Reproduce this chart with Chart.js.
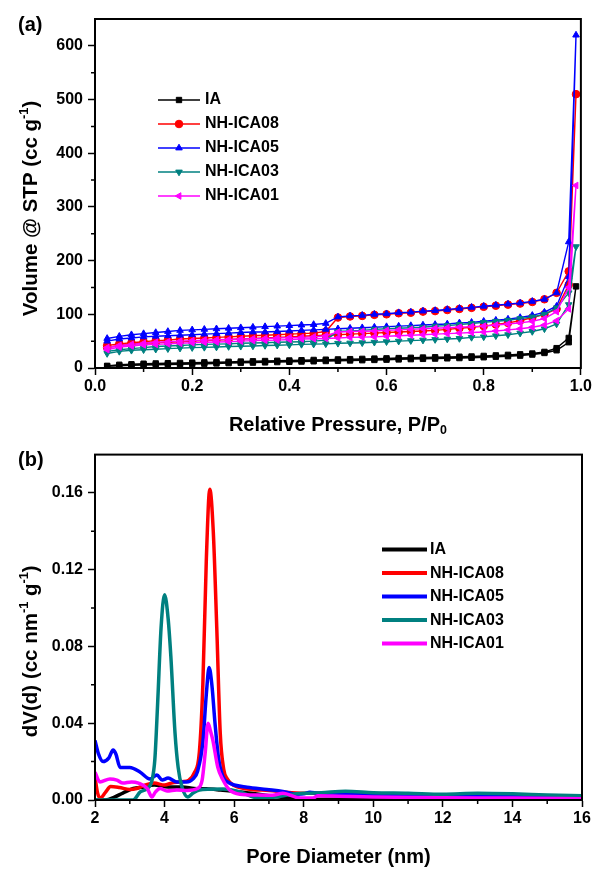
<!DOCTYPE html>
<html>
<head>
<meta charset="utf-8">
<script src="https://cdn.jsdelivr.net/npm/chart.js@4.4.0/dist/chart.umd.min.js"></script>
<style>
  html, body { margin: 0; padding: 0; background: #fff; }
  #wrap { position: relative; width: 594px; height: 869px; }
  .panel { position: absolute; left: 0; width: 594px; }
  #top { top: 0; height: 440px; }
  #bottom { top: 440px; height: 429px; }
</style>
</head>
<body>
<div id="wrap">
  <div class="panel" id="top"><canvas id="iso" width="594" height="440"></canvas></div>
  <div class="panel" id="bottom"><canvas id="psd" width="594" height="429"></canvas></div>
</div>
<script>
// sample names, same order in both panels
const seriesNames = ['IA', 'NH-ICA08', 'NH-ICA05', 'NH-ICA03', 'NH-ICA01'];

// (a) isotherms: relative pressure for adsorption and desorption branches
const pAds = [0.025, 0.05, 0.075, 0.1, 0.125, 0.15, 0.175, 0.2, 0.225, 0.25,
  0.275, 0.3, 0.325, 0.35, 0.375, 0.4, 0.425, 0.45, 0.475, 0.5,
  0.525, 0.55, 0.575, 0.6, 0.625, 0.65, 0.675, 0.7, 0.725, 0.75,
  0.775, 0.8, 0.825, 0.85, 0.875, 0.9, 0.925, 0.95, 0.975, 0.99];
const pDes = [0.975, 0.95, 0.925, 0.9, 0.875, 0.85, 0.825, 0.8, 0.775, 0.75,
  0.725, 0.7, 0.675, 0.65, 0.625, 0.6, 0.575, 0.55, 0.525, 0.5,
  0.475, 0.45, 0.425, 0.4, 0.375, 0.35, 0.325, 0.3, 0.275, 0.25,
  0.225, 0.2, 0.175, 0.15, 0.125, 0.1, 0.075, 0.05, 0.025];

// volume adsorbed (cc/g)
const adsIA = [3, 4, 5, 5.5, 6, 6.5, 7, 7.5, 8, 8.5, 9, 9.5, 10, 10.5, 11, 11.5, 12, 12.5, 13, 13.5,
  14, 14.5, 15, 15.5, 16, 16.5, 17, 17.5, 18, 18.5, 19, 20, 21, 22, 23, 25, 28, 33, 48, 152];
const desIA = [56, 37, 30, 27, 25.5, 24.5, 23.5, 22.5, 21.5, 21, 20.5, 20, 19.5, 19, 18.5, 18, 17.5, 17, 16.5, 16,
  15.5, 15, 14.5, 14, 13.5, 13, 12.5, 12, 11.5, 11, 10.5, 10, 9.5, 9, 8.5, 8, 7, 6, 4];
const ads08 = [38, 42, 44, 46, 47, 48, 49, 50, 51, 52, 53, 54, 55, 56, 57, 58, 59, 60, 61, 62,
  63, 64, 65, 66, 67, 68, 69, 70, 72, 74, 76, 78, 81, 84, 88, 94, 100, 110, 155, 510];
const des08 = [180, 140, 128, 123, 120, 118, 116, 114, 112, 110, 108, 106, 105, 103, 102, 100, 99, 97, 96, 94,
  68, 65, 64, 63, 62, 61, 60, 59, 58, 57, 56, 55, 54, 52, 51, 49, 47, 45, 42];
const ads05 = [50, 54, 56, 58, 59, 60, 61, 62, 63, 64, 65, 66, 67, 67, 68, 69, 70, 71, 72, 73,
  74, 75, 76, 77, 78, 79, 80, 81, 82, 84, 85, 87, 89, 91, 94, 98, 104, 115, 170, 620];
const des05 = [235, 140, 128, 124, 121, 119, 117, 115, 113, 111, 109, 107, 106, 104, 103, 101, 100, 98, 97, 95,
  83, 81, 80, 79, 78, 77, 76, 75, 74, 73, 72, 71, 70, 68, 66, 64, 62, 59, 55];
const ads03 = [27, 31, 33, 34, 35, 36, 37, 38, 38.5, 39, 40, 40.5, 41, 42, 42.5, 43, 44, 44.5, 45, 46,
  46.5, 47, 48, 49, 50, 51, 52, 53, 54, 55, 57, 58, 60, 62, 65, 68, 73, 82, 118, 226];
const des03 = [140, 112, 100, 95, 92, 89, 87, 85, 83, 81, 79, 78, 76, 75, 74, 73, 72, 70, 69, 68,
  52, 50, 49, 48.5, 48, 47, 46.5, 46, 45, 44.5, 44, 43, 42, 41, 40, 38, 36, 34, 31];
const ads01 = [34, 39, 41, 43, 44, 45, 46, 47, 48, 48.5, 49, 50, 51, 51.5, 52, 53, 54, 54.5, 55, 56,
  57, 57.5, 58, 59, 60, 61, 62, 63, 64, 65, 66, 67, 69, 71, 73, 76, 80, 88, 110, 340];
const des01 = [150, 105, 92, 87, 84, 82, 80, 78, 77, 76, 75, 74, 73, 72, 71, 70, 69, 68.5, 68, 67,
  60, 58, 57, 56.5, 56, 55, 54.5, 54, 53, 52.5, 52, 51, 50, 49, 48, 46, 44, 42, 38];

// (b) pore size distributions: diameter (nm) and dV(d)
const dIA = [2.0, 2.3, 2.57, 2.8, 3.1, 3.4, 3.7, 4.1, 4.5, 4.85, 5.2, 5.6, 6.0, 6.5, 7.0, 7.5, 8.0, 9, 10, 12, 14, 16];
const psdIA = [0.0, 0.0, 0.0016, 0.0036, 0.006, 0.0068, 0.0078, 0.0068, 0.0068, 0.006, 0.0058, 0.0052, 0.0045,
  0.0035, 0.0022, 0.0012, 0.0003, 0.0004, 0.0005, 0.0004, 0.0004, 0.0003];
const d08 = [2.0, 2.07, 2.15, 2.3, 2.45, 2.7, 3.0, 3.2, 3.45, 3.7, 4.0, 4.2, 4.5, 4.7, 4.85, 5.0, 5.1, 5.2, 5.3,
  5.4, 5.5, 5.6, 5.7, 5.8, 6.0, 6.5, 7.0, 7.5, 8.0, 8.5, 9, 10, 11, 12, 13, 14, 15, 16];
const psd08 = [0.012, 0.004, 0.001, 0.004, 0.007, 0.0065, 0.0055, 0.006, 0.0078, 0.0088, 0.0078, 0.0088, 0.0095,
  0.0104, 0.014, 0.025, 0.06, 0.125, 0.162, 0.14, 0.09, 0.035, 0.016, 0.011, 0.0075, 0.0055, 0.005, 0.004,
  0.0035, 0.0035, 0.003, 0.003, 0.0028, 0.0025, 0.0024, 0.002, 0.0018, 0.0015];
const d05 = [2.0, 2.1, 2.23, 2.4, 2.52, 2.6, 2.72, 3.0, 3.3, 3.58, 3.78, 3.93, 4.1, 4.35, 4.63, 4.82, 4.95, 5.1,
  5.2, 5.28, 5.36, 5.45, 5.55, 5.68, 5.85, 6.0, 6.37, 6.94, 7.4, 7.8, 8.0, 8.18, 8.4, 9, 10, 11, 12, 13, 14, 15, 16];
const psd05 = [0.031, 0.024, 0.020, 0.022, 0.026, 0.024, 0.017, 0.017, 0.0145, 0.011, 0.013, 0.0104, 0.0114,
  0.0094, 0.0094, 0.011, 0.015, 0.03, 0.055, 0.069, 0.06, 0.04, 0.022, 0.012, 0.009, 0.0078, 0.0067, 0.0055,
  0.0045, 0.003, 0.0032, 0.0041, 0.0035, 0.003, 0.0028, 0.0025, 0.0022, 0.002, 0.0018, 0.0016, 0.0015];
const d03 = [2.0, 2.5, 3.09, 3.3, 3.5, 3.64, 3.72, 3.8, 3.9, 4.0, 4.1, 4.18, 4.3, 4.39, 4.5, 4.67, 4.82, 5.0,
  5.3, 5.68, 6.17, 6.55, 6.8, 7.2, 7.6, 8.0, 8.5, 9.2, 10, 11, 12, 13, 14, 15, 16];
const psd03 = [0.0, 0.0, 0.0, 0.0042, 0.006, 0.0104, 0.021, 0.05, 0.09, 0.107, 0.095, 0.075, 0.035, 0.017,
  0.0068, 0.0016, 0.0036, 0.0052, 0.0056, 0.0057, 0.0042, 0.0016, 0.001, 0.0015, 0.0028, 0.0035, 0.0038,
  0.0045, 0.0038, 0.0035, 0.003, 0.0035, 0.0032, 0.0026, 0.0022];
const d01 = [2.0, 2.14, 2.43, 2.63, 2.8, 3.05, 3.25, 3.5, 3.64, 3.73, 3.87, 4.07, 4.35, 4.65, 4.94, 5.08, 5.17,
  5.25, 5.32, 5.39, 5.53, 5.68, 5.87, 6.17, 6.65, 7.1, 7.4, 7.9, 8.27, 8.4, 9, 10, 12, 14, 16];
const psd01 = [0.0145, 0.0094, 0.011, 0.0104, 0.0088, 0.0094, 0.0088, 0.006, 0.0016, 0.004, 0.006, 0.0047,
  0.0052, 0.005, 0.006, 0.0104, 0.025, 0.040, 0.036, 0.031, 0.017, 0.0104, 0.0052, 0.003, 0.0026, 0.0025,
  0.0035, 0.001, 0.001, 0.0022, 0.002, 0.0016, 0.0012, 0.001, 0.0006];

// tick values
const isoXTicks = [0, 0.2, 0.4, 0.6, 0.8, 1.0];
const isoXMinor = [0.1, 0.3, 0.5, 0.7, 0.9];
const isoYTicks = [0, 100, 200, 300, 400, 500, 600];
const isoYMinor = [50, 150, 250, 350, 450, 550];
const psdXTicks = [2, 4, 6, 8, 10, 12, 14, 16];
const psdXMinor = [3, 5, 7, 9, 11, 13, 15];
const psdYTicks = [0, 0.04, 0.08, 0.12, 0.16];
const psdYMinor = [0.02, 0.06, 0.10, 0.14];

// styling
const colors = ['#000000', '#ff0000', '#0000ff', '#008080', '#ff00ff'];
const markers = ['rect', 'circle', 'triangle', 'triangle', 'triangle'];
const markerRot = [0, 0, 0, 180, 270];
const drawOrder = [5, 4, 3, 2, 1]; // magenta on top
const FONT = '"Liberation Sans", Arial, Helvetica, sans-serif';

Chart.defaults.font.family = FONT;
Chart.defaults.font.weight = 'bold';
Chart.defaults.color = '#000';

function pts(xs, ys) {
  return xs.map((x, i) => ({ x: x, y: ys[i] }));
}

// text with sub/superscripts, centred on (cx, cy)
function drawRich(ctx, parts, cx, cy, size, angle) {
  ctx.save();
  ctx.translate(cx, cy);
  ctx.rotate(angle);
  ctx.textBaseline = 'middle';
  ctx.textAlign = 'left';
  let total = 0;
  parts.forEach(p => {
    ctx.font = 'bold ' + (p.s ? size * 0.62 : size) + 'px ' + FONT;
    p.w = ctx.measureText(p.t).width;
    total += p.w;
  });
  let x = -total / 2;
  parts.forEach(p => {
    ctx.font = 'bold ' + (p.s ? size * 0.62 : size) + 'px ' + FONT;
    let dy = 0;
    if (p.s === 'sup') dy = -size * 0.33;
    if (p.s === 'sub') dy = size * 0.28;
    ctx.fillText(p.t, x, dy);
    x += p.w;
  });
  ctx.restore();
}

// box, minor ticks, axis titles, panel letter and legend
const framePlugin = {
  id: 'frame',
  afterDraw(chart, args, o) {
    const ctx = chart.ctx;
    const a = chart.chartArea;
    const sx = chart.scales.x, sy = chart.scales.y;
    ctx.save();
    ctx.strokeStyle = '#000';
    ctx.lineWidth = 2;
    ctx.strokeRect(a.left, a.top, a.right - a.left, a.bottom - a.top);

    ctx.lineWidth = 1.5;
    ctx.beginPath();
    o.minorX.forEach(v => {
      const px = sx.getPixelForValue(v);
      ctx.moveTo(px, a.bottom);
      ctx.lineTo(px, a.bottom + 4);
    });
    o.minorY.forEach(v => {
      const py = sy.getPixelForValue(v);
      ctx.moveTo(a.left - 4, py);
      ctx.lineTo(a.left, py);
    });
    ctx.stroke();

    ctx.fillStyle = '#000';
    ctx.font = 'bold 20px ' + FONT;
    ctx.textAlign = 'left';
    ctx.textBaseline = 'middle';
    ctx.fillText(o.panel, 18, o.panelY);

    drawRich(ctx, o.xTitle, (a.left + a.right) / 2, a.bottom + 57, 20, 0);
    drawRich(ctx, o.yTitle, 31, (a.top + a.bottom) / 2 + o.yShift, 20.5, -Math.PI / 2);

    // legend
    const lg = o.legend;
    chart.data.datasets.forEach((ds, i) => {
      const y = a.top + lg.y + i * lg.gap;
      const x0 = a.left + lg.x;
      ctx.strokeStyle = ds.borderColor;
      ctx.lineWidth = lg.lineWidth;
      ctx.beginPath();
      ctx.moveTo(x0, y);
      ctx.lineTo(x0 + lg.len, y);
      ctx.stroke();
      if (lg.markers) {
        ctx.fillStyle = ds.borderColor;
        ctx.lineWidth = 1;
        Chart.helpers.drawPoint(ctx, {
          pointStyle: ds.pointStyle, rotation: ds.pointRotation, radius: 3.8, borderWidth: 1
        }, x0 + lg.len / 2, y);
      }
      ctx.fillStyle = '#000';
      ctx.font = 'bold 16px ' + FONT;
      ctx.textAlign = 'left';
      ctx.textBaseline = 'middle';
      ctx.fillText(ds.label, x0 + lg.len + lg.textGap, y);
    });
    ctx.restore();
  }
};

function axisX(ticksArr, min, max, fmt, height) {
  return {
    type: 'linear', min: min, max: max,
    afterBuildTicks: s => { s.ticks = ticksArr.map(v => ({ value: v })); },
    afterFit: s => { s.height = height; },
    ticks: { callback: v => fmt(v), font: { size: 16, weight: 'bold' }, color: '#000',
      padding: 2, maxRotation: 0, autoSkip: false },
    grid: { display: true, drawOnChartArea: false, drawTicks: true, tickLength: 7,
      tickColor: '#000', tickWidth: 1.5 },
    border: { display: true, color: '#000', width: 2 },
    title: { display: false }
  };
}
function axisY(ticksArr, min, max, fmt) {
  return {
    type: 'linear', min: min, max: max,
    afterBuildTicks: s => { s.ticks = ticksArr.map(v => ({ value: v })); },
    afterFit: s => { s.width = 95; },
    ticks: { callback: v => fmt(v), font: { size: 16, weight: 'bold' }, color: '#000',
      padding: 5, autoSkip: false },
    grid: { display: true, drawOnChartArea: false, drawTicks: true, tickLength: 7,
      tickColor: '#000', tickWidth: 1.5 },
    border: { display: true, color: '#000', width: 2 },
    title: { display: false }
  };
}

// (a) N2 isotherms
const isoAds = [adsIA, ads08, ads05, ads03, ads01];
const isoDes = [desIA, des08, des05, des03, des01];
const isoDatasets = seriesNames.map((name, i) => ({
  label: name,
  data: pts(pAds, isoAds[i]).concat(pts(pDes, isoDes[i])),
  showLine: true,
  borderColor: colors[i],
  backgroundColor: colors[i],
  borderWidth: 1.4,
  pointStyle: markers[i],
  pointRotation: markerRot[i],
  pointRadius: 3.8,
  pointBorderWidth: 1,
  tension: 0,
  order: drawOrder[i]
}));

new Chart(document.getElementById('iso'), {
  type: 'scatter',
  data: { datasets: isoDatasets },
  options: {
    responsive: false,
    animation: false,
    layout: { padding: { left: 0, right: 12, top: 19, bottom: 0 } },
    scales: {
      x: axisX(isoXTicks, 0, 1, v => v.toFixed(1), 72),
      y: axisY(isoYTicks, 0, 650, v => String(v))
    },
    plugins: {
      legend: { display: false },
      tooltip: { enabled: false },
      frame: {
        panel: '(a)', panelY: 25, yShift: 15,
        minorX: isoXMinor, minorY: isoYMinor,
        xTitle: [{ t: 'Relative Pressure, P/P' }, { t: '0', s: 'sub' }],
        yTitle: [{ t: 'Volume @ STP (cc g' }, { t: '-1', s: 'sup' }, { t: ')' }],
        legend: { x: 63, y: 81, gap: 24, len: 42, textGap: 5, lineWidth: 1.5, markers: true }
      }
    }
  },
  plugins: [framePlugin]
});

// (b) pore size distribution
const psdX = [dIA, d08, d05, d03, d01];
const psdY = [psdIA, psd08, psd05, psd03, psd01];
const psdDatasets = seriesNames.map((name, i) => ({
  label: name,
  data: pts(psdX[i], psdY[i]),
  showLine: true,
  borderColor: colors[i],
  backgroundColor: colors[i],
  borderWidth: 3.5,
  pointRadius: 0,
  cubicInterpolationMode: 'monotone',
  order: drawOrder[i]
}));

new Chart(document.getElementById('psd'), {
  type: 'scatter',
  data: { datasets: psdDatasets },
  options: {
    responsive: false,
    animation: false,
    layout: { padding: { left: 0, right: 12, top: 12, bottom: 0 } },
    scales: {
      x: axisX(psdXTicks, 2, 16, v => String(v), 69),
      y: axisY(psdYTicks, 0, 0.18, v => v.toFixed(2))
    },
    plugins: {
      legend: { display: false },
      tooltip: { enabled: false },
      frame: {
        panel: '(b)', panelY: 20, yShift: 24,
        minorX: psdXMinor, minorY: psdYMinor,
        xTitle: [{ t: 'Pore Diameter (nm)' }],
        yTitle: [{ t: 'dV(d) (cc nm' }, { t: '-1', s: 'sup' }, { t: ' g' }, { t: '-1', s: 'sup' }, { t: ')' }],
        legend: { x: 287, y: 95, gap: 23.5, len: 45, textGap: 3, lineWidth: 4, markers: false }
      }
    }
  },
  plugins: [framePlugin]
});
</script>
</body>
</html>
